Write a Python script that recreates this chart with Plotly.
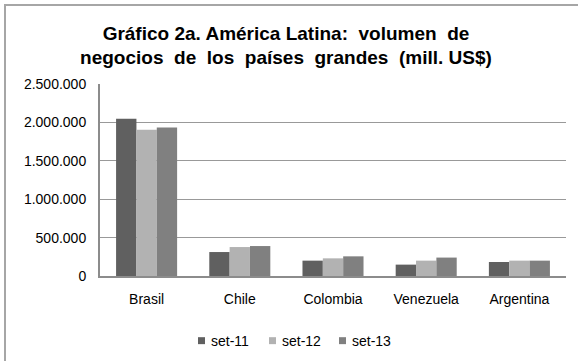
import plotly.graph_objects as go

# Business volume of the large Latin American markets (million US$)
countries = ["Brasil", "Chile", "Colombia", "Venezuela", "Argentina"]
series_names = ["set-11", "set-12", "set-13"]
set_11 = [2048000, 312000, 200000, 148000, 182000]
set_12 = [1905000, 377000, 230000, 200000, 200000]
set_13 = [1935000, 390000, 256000, 240000, 200000]
y_tick_values = [0, 500000, 1000000, 1500000, 2000000, 2500000]
y_tick_labels = ["0", "500.000", "1.000.000", "1.500.000", "2.000.000", "2.500.000"]

series_values = [set_11, set_12, set_13]
series_colors = ["#606060", "#b2b2b2", "#808080"]

W, H = 578, 361
ML, MR, MT, MB = 100, 12, 83.5, 84.5
PW, PH = W - ML - MR, H - MT - MB


def px_x(x):
    return (x - ML) / PW


def px_y(y):
    return 1 - (y - MT) / PH


FONT = "Liberation Sans, Arial, sans-serif"

fig = go.Figure()
for name, vals, col in zip(series_names, series_values, series_colors):
    fig.add_trace(go.Bar(x=countries, y=vals, name=name, marker_color=col,
                         marker_line_width=0, showlegend=False))

shapes = [
    # outer chart frame
    dict(type="rect", xref="paper", yref="paper",
         x0=px_x(5), x1=px_x(W + 20), y0=px_y(H + 20), y1=px_y(4),
         line=dict(color="#a6a6a6", width=2), layer="below"),
]
annotations = []

# legend: small squares followed by the series name
leg_x = [198, 269, 339]
for name, col, lx in zip(series_names, series_colors, leg_x):
    shapes.append(dict(type="rect", xref="paper", yref="paper",
                       x0=px_x(lx), x1=px_x(lx + 7), y0=px_y(345), y1=px_y(338),
                       fillcolor=col, line=dict(width=0)))
    annotations.append(dict(text=name, xref="paper", yref="paper",
                            x=px_x(lx + 11), y=px_y(341.5), xanchor="left",
                            yanchor="middle", showarrow=False,
                            font=dict(family=FONT, size=14, color="#000000")))

fig.update_layout(
    width=W, height=H,
    margin=dict(l=ML, r=MR, t=MT, b=MB, pad=0),
    paper_bgcolor="white", plot_bgcolor="white",
    barmode="group", bargap=0.345, bargroupgap=0,
    title=dict(text="Gráfico 2a. América Latina:  volumen  de<br>negocios  de  los  países  grandes  (mill. US$)",
               xref="container", yref="container", x=286 / W, y=1 - 39.5 / H,
               xanchor="center", yanchor="middle",
               font=dict(family=FONT, size=19, color="#000000", weight="bold")),
    font=dict(family=FONT, size=14, color="#000000"),
    shapes=shapes,
    annotations=annotations,
    xaxis=dict(showline=True, linecolor="#8c8c8c", linewidth=2, ticks="",
               showgrid=False, ticklabelstandoff=9,
               tickfont=dict(family=FONT, size=14, color="#000000")),
    yaxis=dict(range=[0, 2500000], tickvals=y_tick_values, ticktext=y_tick_labels,
               showline=True, linecolor="#8c8c8c", linewidth=2, ticks="",
               showgrid=True, gridcolor="#999999", gridwidth=1,
               zeroline=False, ticklabelstandoff=9,
               tickfont=dict(family=FONT, size=14, color="#000000")),
)

fig.write_html("out.html")
